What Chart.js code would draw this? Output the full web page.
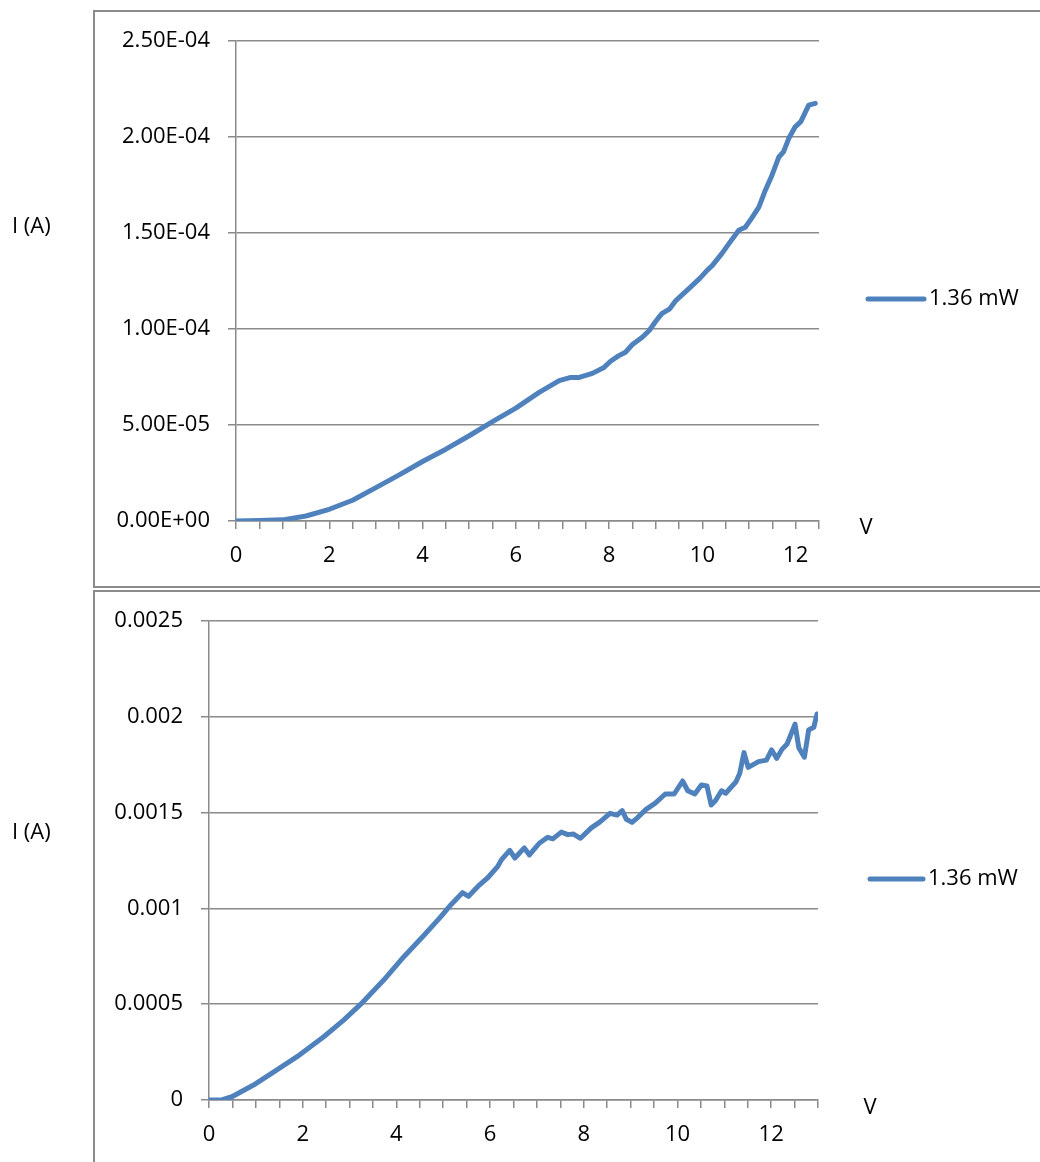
<!DOCTYPE html>
<html>
<head>
<meta charset="utf-8">
<script src="https://cdn.jsdelivr.net/npm/chart.js@4.4.1/dist/chart.umd.min.js"></script>
<style>
    html, body { margin: 0; padding: 0; background: #fff; overflow: hidden; }
    body { width: 1040px; height: 1162px; position: relative; }
    .moldura { position: absolute; left: 93px; border: 2px solid #8a8a8a; border-right: none; }
    #moldura-1 { top: 10px; width: 960px; height: 574px; }
    #moldura-2 { top: 590px; width: 960px; height: 600px; border-bottom: none; }
    canvas { position: absolute; left: 0; }
    #grafico-1 { top: 0; }
    #grafico-2 { top: 589px; }
</style>
</head>
<body>
<div class="moldura" id="moldura-1"></div>
<div class="moldura" id="moldura-2"></div>
<canvas id="grafico-1" width="1040" height="588"></canvas>
<canvas id="grafico-2" width="1040" height="573"></canvas>
<script>
// Curva I x V, primeira medida (1.36 mW)
const tensao1 = [0, 0.5, 1.0, 1.5, 2.0, 2.5, 3.0, 3.5, 4.0, 4.5, 5.0, 5.5, 6.0, 6.5, 6.93, 7.18, 7.36, 7.64, 7.89, 8.03, 8.2, 8.35, 8.5, 8.71, 8.86, 9.0, 9.13, 9.3, 9.43, 9.71, 9.95, 10.1, 10.21, 10.42, 10.6, 10.78, 10.92, 11.05, 11.21, 11.35, 11.49, 11.64, 11.74, 11.85, 11.99, 12.11, 12.28, 12.42];
const corrente1 = [0, 0.2e-6, 0.6e-6, 2.6e-6, 6.1e-6, 10.8e-6, 17.4e-6, 24.0e-6, 31.0e-6, 37.4e-6, 44.4e-6, 51.8e-6, 58.8e-6, 67.0e-6, 73.1e-6, 74.8e-6, 74.8e-6, 76.9e-6, 80.0e-6, 83.2e-6, 86.0e-6, 87.9e-6, 91.9e-6, 95.7e-6, 99.2e-6, 104e-6, 108e-6, 110.5e-6, 114.8e-6, 121e-6, 126.5e-6, 130.5e-6, 133e-6, 139.4e-6, 145.5e-6, 151.4e-6, 153e-6, 157.5e-6, 163.5e-6, 172.3e-6, 180e-6, 189.6e-6, 192.3e-6, 199.2e-6, 205.3e-6, 208e-6, 216.6e-6, 217.5e-6];

// Curva I x V, segunda medida (1.36 mW)
const tensao2 = [0, 0.27, 0.49, 0.95, 1.45, 1.88, 2.45, 2.88, 3.24, 3.73, 4.16, 4.59, 4.95, 5.16, 5.41, 5.54, 5.77, 5.95, 6.16, 6.24, 6.42, 6.53, 6.73, 6.84, 7.05, 7.23, 7.34, 7.52, 7.66, 7.78, 7.93, 8.16, 8.34, 8.56, 8.71, 8.82, 8.91, 9.03, 9.15, 9.33, 9.52, 9.74, 9.93, 10.11, 10.22, 10.37, 10.51, 10.63, 10.72, 10.81, 10.94, 11.03, 11.25, 11.33, 11.42, 11.51, 11.73, 11.9, 12.01, 12.12, 12.23, 12.34, 12.51, 12.59, 12.71, 12.8, 12.91, 12.98];
const corrente2 = [0, 0, 1.7e-5, 7.8e-5, 1.57e-4, 2.26e-4, 3.30e-4, 4.18e-4, 5.00e-4, 6.26e-4, 7.48e-4, 8.60e-4, 9.57e-4, 1.018e-3, 1.082e-3, 1.063e-3, 1.122e-3, 1.160e-3, 1.218e-3, 1.253e-3, 1.303e-3, 1.263e-3, 1.316e-3, 1.279e-3, 1.340e-3, 1.371e-3, 1.363e-3, 1.398e-3, 1.385e-3, 1.388e-3, 1.366e-3, 1.420e-3, 1.450e-3, 1.496e-3, 1.487e-3, 1.510e-3, 1.465e-3, 1.449e-3, 1.474e-3, 1.517e-3, 1.548e-3, 1.597e-3, 1.597e-3, 1.665e-3, 1.614e-3, 1.597e-3, 1.644e-3, 1.639e-3, 1.540e-3, 1.562e-3, 1.614e-3, 1.601e-3, 1.661e-3, 1.705e-3, 1.813e-3, 1.736e-3, 1.766e-3, 1.774e-3, 1.827e-3, 1.783e-3, 1.830e-3, 1.858e-3, 1.962e-3, 1.839e-3, 1.789e-3, 1.931e-3, 1.945e-3, 2.015e-3];

// Eixos
const ticksY1 = [0, 5e-5, 1e-4, 1.5e-4, 2e-4, 2.5e-4];
const rotulosY1 = ['0.00E+00', '5.00E-05', '1.00E-04', '1.50E-04', '2.00E-04', '2.50E-04'];
const ticksY2 = [0, 0.0005, 0.001, 0.0015, 0.002, 0.0025];
const rotulosY2 = ['0', '0.0005', '0.001', '0.0015', '0.002', '0.0025'];
const rotulosX = [0, 2, 4, 6, 8, 10, 12];
const maxX1 = 12.5;
const maxX2 = 13;

const serie = 'I (A)';
const legenda = '1.36 mW';
const eixoV = 'V';

const azul = '#4F81BD';
const cinza = '#8a8a8a';
const fonte = '"Open Sans", "Liberation Sans", sans-serif';

// Textos fora dos eixos: título vertical, "V" e a legenda à direita
const textosExtras = {
    id: 'textosExtras',
    afterDraw(chart, args, opts) {
        const ctx = chart.ctx;
        const area = chart.chartArea;
        const ds = chart.data.datasets[0];
        ctx.save();
        ctx.fillStyle = '#000';
        ctx.font = opts.tamanho + 'px ' + fonte;
        ctx.textBaseline = 'middle';

        ctx.textAlign = 'left';
        ctx.fillText(serie, 12, opts.tituloY);

        ctx.textAlign = 'center';
        ctx.fillText(eixoV, area.right + opts.vDx, area.bottom + opts.vDy);

        // amostra da linha na legenda
        ctx.strokeStyle = ds.borderColor;
        ctx.lineWidth = ds.borderWidth;
        ctx.lineCap = 'round';
        ctx.beginPath();
        ctx.moveTo(opts.legX1, opts.legY);
        ctx.lineTo(opts.legX2, opts.legY);
        ctx.stroke();

        ctx.textAlign = 'left';
        ctx.fillText(ds.label, opts.legX2 + 5, opts.legY);
        ctx.restore();
    }
};

function criarGrafico(id, tensao, corrente, ticksY, rotulosY, maxX, cfg) {
    const pontos = tensao.map((v, i) => ({ x: v, y: corrente[i] }));
    return new Chart(document.getElementById(id), {
        type: 'scatter',
        data: {
            datasets: [{
                label: legenda,
                data: pontos,
                showLine: true,
                borderColor: azul,
                backgroundColor: azul,
                borderWidth: 5,
                borderCapStyle: 'round',
                borderJoinStyle: 'round',
                pointRadius: 0,
                tension: 0
            }]
        },
        options: {
            responsive: false,
            animation: false,
            devicePixelRatio: 1,
            layout: { padding: cfg.padding },
            plugins: {
                legend: { display: false },
                tooltip: { enabled: false },
                textosExtras: cfg.textos
            },
            scales: {
                x: {
                    type: 'linear',
                    min: 0,
                    max: maxX,
                    afterFit: s => { s.height = 60; },
                    grid: { drawOnChartArea: false, color: cinza, lineWidth: 1.5, tickLength: 8 },
                    border: { color: cinza, width: 1.5 },
                    ticks: {
                        stepSize: 0.5,
                        autoSkip: false,
                        maxRotation: 0,
                        padding: cfg.padX,
                        color: '#000',
                        font: { family: fonte, size: cfg.tamanho },
                        callback: v => rotulosX.includes(v) ? String(v) : ''
                    }
                },
                y: {
                    type: 'linear',
                    min: 0,
                    max: ticksY[ticksY.length - 1],
                    afterFit: s => { s.width = cfg.larguraY; },
                    afterBuildTicks: s => { s.ticks = ticksY.map(v => ({ value: v })); },
                    grid: { color: cinza, lineWidth: 1.5, tickLength: 8 },
                    border: { color: cinza, width: 1.5 },
                    ticks: {
                        padding: 18,
                        color: '#000',
                        font: { family: fonte, size: cfg.tamanho },
                        callback: (v, i) => rotulosY[i]
                    }
                }
            }
        },
        plugins: [textosExtras]
    });
}

criarGrafico('grafico-1', tensao1, corrente1, ticksY1, rotulosY1, maxX1, {
    padding: { left: 0, top: 41, right: 221, bottom: 7 },
    larguraY: 236,
    tamanho: 22,
    padX: 14,
    textos: { tamanho: 22, tituloY: 227, vDx: 47, vDy: 7, legX1: 868, legX2: 924, legY: 299 }
});

criarGrafico('grafico-2', tensao2, corrente2, ticksY2, rotulosY2, maxX2, {
    padding: { left: 0, top: 32, right: 222, bottom: 2 },
    larguraY: 209,
    tamanho: 22,
    padX: 14,
    textos: { tamanho: 22, tituloY: 244, vDx: 52, vDy: 8, legX1: 870, legX2: 923, legY: 290 }
});
</script>
</body>
</html>
